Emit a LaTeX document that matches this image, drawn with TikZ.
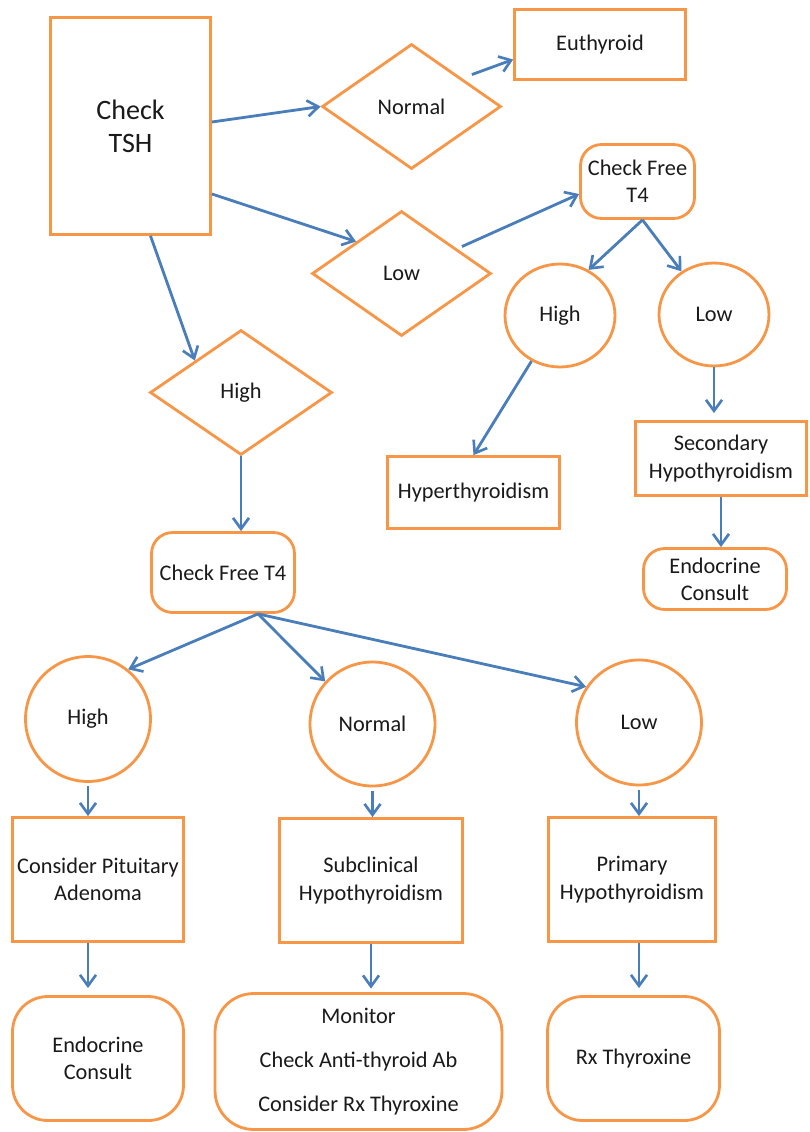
\documentclass[tikz,border=0pt]{standalone}
\usepackage{fontspec}
\setmainfont{Carlito}
\usetikzlibrary{positioning,calc,arrows.meta,shapes.geometric}
\definecolor{orng}{HTML}{F79646}
\definecolor{blu}{HTML}{4A7EBB}
\definecolor{dark}{HTML}{1A1A1A}
\tikzset{
  sqbox/.style ={draw=orng, line width=1.6pt, fill=white, text=dark,
                 align=center, inner sep=2pt},
  rbox/.style  ={sqbox, rounded corners=12pt},
  dmd/.style   ={diamond, draw=orng, line width=1.6pt, fill=white, text=dark,
                 align=center, inner sep=0pt, minimum width=3.58cm, minimum height=2.5cm},
  circ/.style  ={ellipse, draw=orng, line width=1.6pt, fill=white, text=dark,
                 align=center, inner sep=0pt},
  arr/.style   ={-{Straight Barb[length=2.2mm, width=3.2mm, line width=1.5pt]},
                 line width=1.6pt, draw=blu},
}

\begin{document}
\begin{tikzpicture}[x=0.02cm, y=-0.02cm, font=\fontsize{12.7}{15.5}\selectfont]

  \useasboundingbox (0,0) rectangle (809,1132);

  % ---- TSH and first decisions ----
  \node[sqbox, minimum width=3.2cm, minimum height=4.34cm,
        font=\fontsize{16}{18.8}\selectfont] (tsh) at (130.5,126) {Check\\TSH};
  \node[dmd] (normd) at (411.5,106.5) {Normal};
  \node[sqbox, minimum width=3.42cm, minimum height=1.4cm] (euth) at (600,44.5) {Euthyroid};
  \node[dmd] (lowd) at (401.5,273.5) {Low};
  \node[dmd, minimum width=3.64cm] (highd) at (241,392.5) {High};

  \draw[arr] ([yshift=0.08cm]tsh.east) -- (normd.west);
  \draw[arr] ([xshift=0.3cm]normd.north east) -- ([yshift=-0.3cm]euth.west);
  \draw[arr] ([yshift=-1.36cm]tsh.east) -- (lowd.north west);
  \draw[arr] ([xshift=0.4cm]tsh.south) -- (highd.north west);

  % ---- low TSH branch ----
  \node[rbox, minimum width=2.28cm, minimum height=1.48cm] (ft4a) at (637.5,181.5) {Check Free\\T4};
  \node[circ, minimum width=2.2cm, minimum height=2.06cm] (higha) at (560,315.5) {High};
  \node[circ, minimum width=2.2cm, minimum height=2.06cm] (lowa) at (714,314.5) {Low};
  \node[sqbox, minimum width=3.44cm, minimum height=1.44cm] (hyper) at (473.5,492.5) {Hyperthyroidism};
  \node[sqbox, minimum width=3.42cm, minimum height=1.48cm] (second) at (721,458.5) {Secondary\\Hypothyroidism};
  \node[rbox, minimum width=2.86cm, minimum height=1.22cm] (endoa) at (715,579) {Endocrine\\Consult};

  \draw[arr] ([xshift=0.3cm, yshift=-0.1cm]lowd.north east) -- ([yshift=-0.25cm]ft4a.west);
  \draw[arr] ([xshift=0.1cm]ft4a.south) -- (higha.58);
  \draw[arr] ([xshift=0.1cm]ft4a.south) -- (lowa.127);
  \draw[arr] (higha.-122) -- (hyper.north);
  \draw[arr, shorten >=4pt] (lowa.south) -- (lowa.south |- second.north);
  \draw[arr] (second.south) -- (second.south |- endoa.north);

  % ---- high TSH branch ----
  \node[rbox, minimum width=2.86cm, minimum height=1.6cm] (ft4b) at (223,572.5) {Check Free T4};
  \draw[arr] (highd.south) -- (highd.south |- ft4b.north);
  \coordinate (fork) at ([xshift=0.7cm]ft4b.south);

  \node[circ, minimum width=2.5cm, minimum height=2.5cm] (highb) at (88,719) {High};
  \node[circ, minimum width=2.5cm, minimum height=2.48cm] (normb) at (372.5,724) {Normal};
  \node[circ, minimum width=2.5cm, minimum height=2.5cm] (lowb) at (639,722.5) {Low};
  \draw[arr] (fork) -- (highb.51);
  \draw[arr] (fork) -- (normb.138);
  \draw[arr] (fork) -- (lowb.146);

  \node[sqbox, minimum width=3.42cm, minimum height=2.48cm] (pitu) at (98,879.5) {Consider Pituitary\\Adenoma};
  \node[sqbox, minimum width=3.66cm, minimum height=2.48cm] (subcl) at (371,880.5) {Subclinical\\Hypothyroidism};
  \node[sqbox, minimum width=3.34cm, minimum height=2.48cm] (prim) at (632,879.5) {Primary\\Hypothyroidism};
  \draw[arr, shorten <=2pt] (highb.south) -- (highb.south |- pitu.north);
  \draw[arr, shorten <=2pt] (normb.south) -- (normb.south |- subcl.north);
  \draw[arr, shorten <=2pt] (lowb.south) -- (lowb.south |- prim.north);

  % ---- outcomes ----
  \node[rbox, rounded corners=20pt, minimum width=3.42cm, minimum height=2.48cm] (endob) at (98,1058.5) {Endocrine\\Consult};
  \node[rbox, rounded corners=22pt, minimum width=5.74cm, minimum height=2.72cm] (monit) at (358.5,1061.5)
        {Monitor\\[9.5pt]Check Anti-thyroid Ab\\[9.5pt]Consider Rx Thyroxine};
  \node[rbox, rounded corners=20pt, minimum width=3.44cm, minimum height=2.48cm] (rxthy) at (633.5,1058.5) {Rx Thyroxine};
  \draw[arr, shorten >=4pt] (highb.south |- pitu.south) -- (highb.south |- endob.north);
  \draw[arr, shorten >=2pt] (subcl.south) -- (subcl.south |- monit.north);
  \draw[arr, shorten >=4pt] (lowb.south |- prim.south) -- (lowb.south |- rxthy.north);

\end{tikzpicture}
\end{document}
